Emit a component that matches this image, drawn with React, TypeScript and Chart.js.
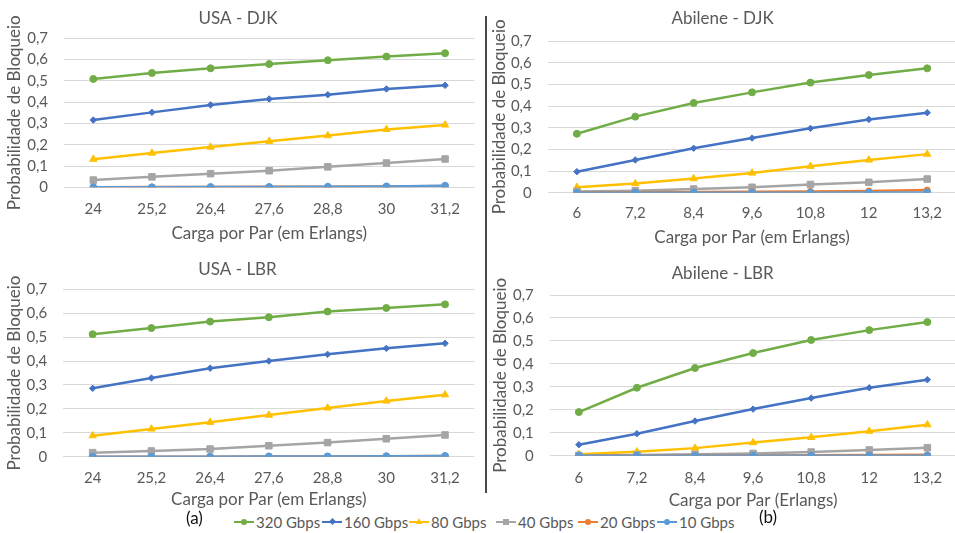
import React, { useEffect, useRef } from "react";
import { Chart, registerables } from "chart.js";

Chart.register(...registerables);

// ---------- data ----------
const usaLoads = ["24", "25,2", "26,4", "27,6", "28,8", "30", "31,2"];
const abileneLoads = ["6", "7,2", "8,4", "9,6", "10,8", "12", "13,2"];

const seriesNames = ["320 Gbps", "160 Gbps", "80 Gbps", "40 Gbps", "20 Gbps", "10 Gbps"];

// USA - DJK
const usaDjk320 = [0.509, 0.537, 0.559, 0.579, 0.597, 0.614, 0.63];
const usaDjk160 = [0.316, 0.352, 0.387, 0.415, 0.435, 0.462, 0.479];
const usaDjk80 = [0.132, 0.161, 0.189, 0.216, 0.243, 0.272, 0.293];
const usaDjk40 = [0.034, 0.049, 0.064, 0.078, 0.096, 0.114, 0.133];
const usaDjk20 = [0.0, 0.001, 0.001, 0.002, 0.003, 0.004, 0.006];
const usaDjk10 = [0.0, 0.0, 0.001, 0.001, 0.002, 0.004, 0.007];

// Abilene - DJK
const abDjk320 = [0.272, 0.351, 0.414, 0.463, 0.508, 0.543, 0.574];
const abDjk160 = [0.097, 0.151, 0.205, 0.252, 0.297, 0.338, 0.369];
const abDjk80 = [0.025, 0.042, 0.065, 0.091, 0.122, 0.151, 0.178];
const abDjk40 = [0.006, 0.009, 0.017, 0.025, 0.038, 0.048, 0.063];
const abDjk20 = [0.001, 0.002, 0.003, 0.004, 0.006, 0.008, 0.012];
const abDjk10 = [0.0, 0.0, 0.0, 0.0, 0.0, 0.001, 0.001];

// USA - LBR
const usaLbr320 = [0.512, 0.538, 0.565, 0.583, 0.607, 0.622, 0.637];
const usaLbr160 = [0.286, 0.329, 0.37, 0.4, 0.428, 0.453, 0.474];
const usaLbr80 = [0.088, 0.116, 0.144, 0.174, 0.204, 0.233, 0.259];
const usaLbr40 = [0.017, 0.024, 0.032, 0.046, 0.059, 0.075, 0.091];
const usaLbr20 = [0.0, 0.0, 0.0, 0.001, 0.001, 0.002, 0.003];
const usaLbr10 = [0.0, 0.0, 0.0, 0.001, 0.001, 0.002, 0.003];

// Abilene - LBR
const abLbr320 = [0.19, 0.296, 0.382, 0.447, 0.504, 0.547, 0.582];
const abLbr160 = [0.048, 0.096, 0.151, 0.203, 0.251, 0.296, 0.331];
const abLbr80 = [0.006, 0.017, 0.033, 0.057, 0.08, 0.107, 0.135];
const abLbr40 = [0.001, 0.003, 0.006, 0.01, 0.016, 0.025, 0.035];
const abLbr20 = [0.0, 0.0, 0.001, 0.001, 0.002, 0.003, 0.004];
const abLbr10 = [0.0, 0.0, 0.0, 0.0, 0.0, 0.0, 0.0];

// ---------- styles ----------
const FONT = "Lato, 'Open Sans', sans-serif";
const TEXT = "#595959";
const GRID = "#D9D9D9";
const colors = ["#70AD47", "#4472C4", "#FFC000", "#A5A5A5", "#ED7D31", "#5B9BD5"];
const pointStyles = ["circle", "rectRot", "triangle", "rect", "circle", "circle"];
const pointRadii = [3.5, 3.2, 4.2, 4.6, 3, 3.5];

type Geo = {
  left: number; top: number; w: number; h: number;
  tPadTop: number; tPadBot: number;
  xh: number; xTickPad: number; xTitlePad: number;
  yw: number; yTitlePad: number; padRight: number;
};

type Spec = {
  title: string;
  xTitle: string;
  labels: string[];
  series: number[][];
  geo: Geo;
};

const specs: Spec[] = [
  {
    title: "USA - DJK",
    xTitle: "Carga por Par (em Erlangs)",
    labels: usaLoads,
    series: [usaDjk320, usaDjk160, usaDjk80, usaDjk40, usaDjk20, usaDjk10],
    geo: { left: 0, top: 0, w: 480, h: 245, tPadTop: 8.1, tPadBot: 9.8, xh: 57.7, xTickPad: 13, xTitlePad: 1.5, yw: 64, yTitlePad: 4.8, padRight: 4 },
  },
  {
    title: "Abilene - DJK",
    xTitle: "Carga por Par (em Erlangs)",
    labels: abileneLoads,
    series: [abDjk320, abDjk160, abDjk80, abDjk40, abDjk20, abDjk10],
    geo: { left: 487, top: 0, w: 475, h: 250, tPadTop: 8.1, tPadBot: 12.5, xh: 57.3, xTickPad: 11.3, xTitlePad: 1.8, yw: 60.7, yTitlePad: 2.8, padRight: 3.7 },
  },
  {
    title: "USA - LBR",
    xTitle: "Carga por Par (em Erlangs)",
    labels: usaLoads,
    series: [usaLbr320, usaLbr160, usaLbr80, usaLbr40, usaLbr20, usaLbr10],
    geo: { left: 0, top: 250, w: 480, h: 262, tPadTop: 9.8, tPadBot: 9.1, xh: 55.3, xTickPad: 12.6, xTitlePad: 1.8, yw: 63.3, yTitlePad: 4.8, padRight: 4.9 },
  },
  {
    title: "Abilene - LBR",
    xTitle: "Carga por Par (Erlangs)",
    labels: abileneLoads,
    series: [abLbr320, abLbr160, abLbr80, abLbr40, abLbr20, abLbr10],
    geo: { left: 487, top: 250, w: 475, h: 262, tPadTop: 13.1, tPadBot: 11.5, xh: 56.3, xTickPad: 13.6, xTitlePad: 1.1, yw: 62.8, yTitlePad: 3.8, padRight: 3.8 },
  },
];

function fmt(v: number): string {
  if (Math.abs(v) < 1e-9) return "0";
  return v.toFixed(1).replace(".", ",");
}

function Panel({ spec }: { spec: Spec }) {
  const ref = useRef<HTMLCanvasElement | null>(null);
  useEffect(() => {
    if (!ref.current) return;
    const g = spec.geo;
    const chart = new Chart(ref.current, {
      type: "line",
      data: {
        labels: spec.labels,
        datasets: spec.series.map((d, i) => ({
          label: seriesNames[i],
          data: d,
          borderColor: colors[i],
          backgroundColor: colors[i],
          pointBackgroundColor: colors[i],
          pointBorderColor: colors[i],
          pointStyle: pointStyles[i] as any,
          pointRadius: pointRadii[i],
          pointBorderWidth: 1,
          borderWidth: 2.5,
          tension: 0,
          order: 5 - i,
        })),
      },
      options: {
        animation: false,
        responsive: false,
        devicePixelRatio: 1,
        layout: { padding: { left: 0, right: g.padRight, top: 0, bottom: 0 } },
        plugins: {
          legend: { display: false },
          tooltip: { enabled: false },
          title: {
            display: true,
            text: spec.title,
            color: TEXT,
            font: { family: FONT, size: 17, weight: "normal" },
            padding: { top: g.tPadTop, bottom: g.tPadBot },
          },
        },
        scales: {
          x: {
            type: "category",
            offset: true,
            grid: { display: false, drawTicks: false },
            border: { display: false },
            ticks: { color: TEXT, font: { family: FONT, size: 15 }, padding: g.xTickPad, maxRotation: 0, autoSkip: false },
            title: {
              display: true,
              text: spec.xTitle,
              color: TEXT,
              font: { family: FONT, size: 17 },
              padding: { top: 0, bottom: g.xTitlePad },
            },
            afterFit: (s: any) => { s.height = g.xh; },
          },
          y: {
            min: 0,
            max: 0.7,
            grid: { color: GRID, lineWidth: 1, drawTicks: false },
            border: { display: false },
            ticks: {
              stepSize: 0.1,
              color: TEXT,
              font: { family: FONT, size: 15 },
              padding: 16,
              callback: (v: any) => fmt(Number(v)),
            },
            title: {
              display: true,
              text: "Probabilidade de Bloqueio",
              color: TEXT,
              font: { family: FONT, size: 17 },
              padding: { top: g.yTitlePad, bottom: 0 },
            },
            afterFit: (s: any) => { s.width = g.yw; },
          },
        },
      } as any,
    });
    return () => chart.destroy();
  }, [spec]);
  const g = spec.geo;
  return (
    <canvas
      ref={ref}
      width={g.w}
      height={g.h}
      style={{ position: "absolute", left: g.left, top: g.top, width: g.w, height: g.h }}
    />
  );
}

function LegendIcon({ i }: { i: number }) {
  const c = colors[i];
  const shape = pointStyles[i];
  let marker: React.ReactNode = null;
  if (shape === "circle") {
    marker = <div style={{ position: "absolute", left: 7, top: -2, width: 6, height: 6, borderRadius: "50%", background: c }} />;
  } else if (shape === "rectRot") {
    marker = <div style={{ position: "absolute", left: 7.5, top: -1.5, width: 5, height: 5, background: c, transform: "rotate(45deg)" }} />;
  } else if (shape === "rect") {
    marker = <div style={{ position: "absolute", left: 7, top: -2, width: 6, height: 6, background: c }} />;
  } else if (shape === "triangle") {
    marker = (
      <div style={{ position: "absolute", left: 6.5, top: -3, width: 0, height: 0, borderLeft: "3.5px solid transparent", borderRight: "3.5px solid transparent", borderBottom: `6px solid ${c}` }} />
    );
  }
  return (
    <div style={{ position: "relative", width: 20, height: 2.5, background: c, marginRight: 2 }}>
      {marker}
    </div>
  );
}

const legendX = [234, 322, 409, 496, 578, 657];

export default function App() {
  return (
    <div style={{ position: "fixed", left: 0, top: 0, width: 955, height: 533, overflow: "hidden", background: "#fff" }}>
      {specs.map((s, i) => (
        <Panel key={i} spec={s} />
      ))}
      <div style={{ position: "absolute", left: 485, top: 16, width: 2, height: 477, background: "#4a4a4a" }} />
      {seriesNames.map((n, i) => (
        <div
          key={n}
          style={{ position: "absolute", left: legendX[i], top: 512, height: 20, display: "flex", alignItems: "center", fontFamily: FONT, fontSize: 15, color: TEXT, whiteSpace: "nowrap" }}
        >
          <LegendIcon i={i} />
          <span>{n}</span>
        </div>
      ))}
      <div style={{ position: "absolute", left: 186, top: 508, fontFamily: FONT, fontSize: 17, color: "#111", lineHeight: "20px" }}>(a)</div>
      <div style={{ position: "absolute", left: 759, top: 507, fontFamily: FONT, fontSize: 17, color: "#111", lineHeight: "20px" }}>(b)</div>
    </div>
  );
}
